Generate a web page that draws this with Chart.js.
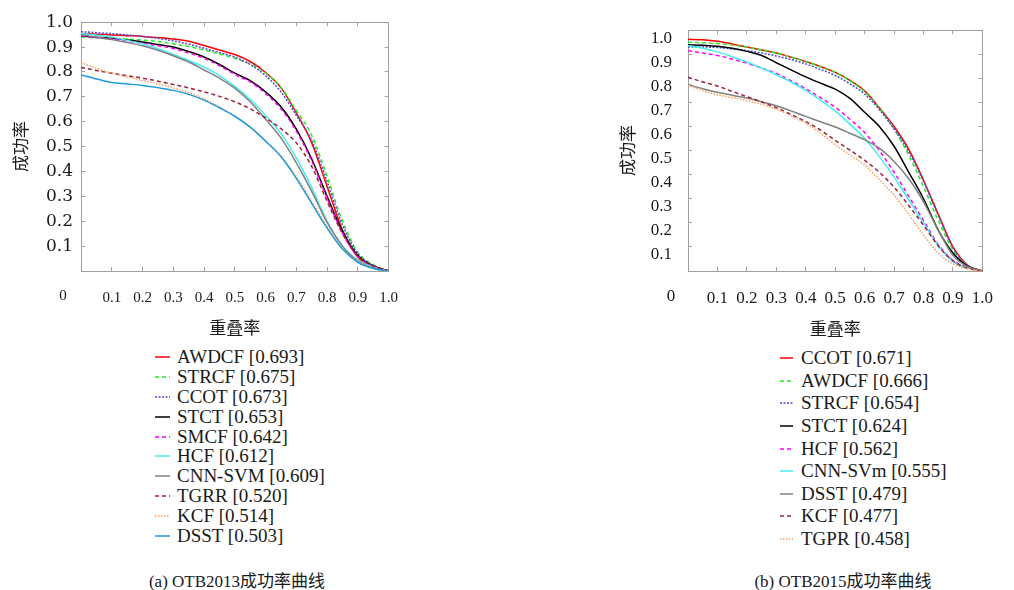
<!DOCTYPE html>
<html>
<head>
<meta charset="utf-8">
<script src="https://cdn.jsdelivr.net/npm/chart.js@4.4.1/dist/chart.umd.min.js"></script>
<style>
  body { margin:0; background:#fff; width:1014px; height:590px; overflow:hidden; position:relative;
         font-family:"Liberation Serif","Noto Sans CJK SC",serif; color:#1a1a1a; }
  .box { position:absolute; }
  .legend { position:absolute; font-size:19px; }
  .legend div { display:flex; align-items:center; white-space:nowrap; }
  .cap { position:absolute; font-size:17px; transform:translateX(-50%); white-space:nowrap; }
</style>
</head>
<body>
<div class="box" style="left:0;top:0;width:420px;height:345px"><canvas id="c13"></canvas></div>
<div class="box" style="left:580px;top:0;width:434px;height:345px"><canvas id="c15"></canvas></div>
<div class="legend" id="lg13" style="left:155px;top:347px"></div>
<div class="legend" id="lg15" style="left:780px;top:347px"></div>
<div class="cap" style="left:237px;top:567px">(a) OTB2013成功率曲线</div>
<div class="cap" style="left:843px;top:567px">(b) OTB2015成功率曲线</div>
<script>
// overlap thresholds (x axis)
const thresholds = [0, 0.05, 0.1, 0.15, 0.2, 0.25, 0.3, 0.35, 0.4, 0.45, 0.5,
                    0.55, 0.6, 0.65, 0.7, 0.75, 0.8, 0.85, 0.9, 0.95, 1];

// OTB2013
const names13 = ['AWDCF', 'STRCF', 'CCOT', 'STCT', 'SMCF', 'HCF', 'CNN-SVM', 'TGRR', 'KCF', 'DSST'];
const auc13 = [0.693, 0.675, 0.673, 0.653, 0.642, 0.612, 0.609, 0.520, 0.514, 0.503];
const awdcf13 = [0.955,0.952,0.949,0.946,0.943,0.938,0.932,0.923,0.906,0.888,0.870,0.842,0.798,0.737,0.635,0.515,0.34,0.165,0.055,0.02,0];
const strcf13 = [0.94,0.938,0.936,0.932,0.928,0.922,0.913,0.902,0.888,0.872,0.855,0.832,0.795,0.738,0.645,0.545,0.38,0.2,0.075,0.025,0];
const ccot13 = [0.962,0.958,0.954,0.949,0.943,0.935,0.925,0.912,0.895,0.878,0.86,0.83,0.785,0.72,0.625,0.525,0.36,0.185,0.07,0.022,0];
const stct13 = [0.945,0.94,0.935,0.928,0.92,0.91,0.9,0.882,0.86,0.83,0.795,0.765,0.72,0.66,0.57,0.45,0.30,0.16,0.062,0.02,0];
const smcf13 = [0.945,0.938,0.932,0.924,0.915,0.905,0.894,0.876,0.855,0.825,0.79,0.76,0.713,0.652,0.562,0.442,0.292,0.152,0.058,0.018,0];
const hcf13 = [0.955,0.948,0.94,0.927,0.912,0.893,0.87,0.846,0.82,0.785,0.742,0.69,0.625,0.552,0.455,0.335,0.2,0.1,0.045,0.015,0];
const cnn13 = [0.95,0.94,0.93,0.918,0.905,0.887,0.865,0.84,0.808,0.775,0.735,0.68,0.61,0.535,0.435,0.32,0.195,0.1,0.04,0.012,0];
const tgrr13 = [0.818,0.806,0.795,0.785,0.775,0.763,0.75,0.736,0.72,0.702,0.68,0.652,0.615,0.572,0.515,0.42,0.28,0.15,0.06,0.02,0];
const kcf13 = [0.838,0.815,0.795,0.78,0.766,0.752,0.736,0.716,0.692,0.66,0.622,0.578,0.522,0.46,0.38,0.28,0.18,0.09,0.04,0.01,0];
const dsst13 = [0.788,0.772,0.758,0.752,0.746,0.737,0.726,0.71,0.687,0.656,0.622,0.578,0.522,0.46,0.372,0.272,0.172,0.088,0.035,0.01,0];

// OTB2015
const names15 = ['CCOT', 'AWDCF', 'STRCF', 'STCT', 'HCF', 'CNN-SVm', 'DSST', 'KCF', 'TGPR'];
const auc15 = [0.671, 0.666, 0.654, 0.624, 0.562, 0.555, 0.479, 0.477, 0.458];
const ccot15 = [0.962,0.96,0.954,0.943,0.93,0.918,0.905,0.888,0.87,0.849,0.825,0.792,0.748,0.678,0.6,0.505,0.377,0.236,0.1,0.024,0];
const awdcf15 = [0.95,0.948,0.945,0.938,0.93,0.918,0.905,0.888,0.87,0.849,0.825,0.79,0.745,0.675,0.59,0.48,0.35,0.21,0.088,0.022,0];
const strcf15 = [0.93,0.93,0.928,0.922,0.915,0.905,0.893,0.878,0.86,0.837,0.812,0.777,0.735,0.67,0.59,0.495,0.372,0.232,0.097,0.022,0];
const stct15 = [0.94,0.937,0.933,0.925,0.912,0.895,0.865,0.835,0.806,0.78,0.755,0.717,0.659,0.6,0.518,0.41,0.3,0.17,0.075,0.02,0];
const hcf15 = [0.915,0.905,0.895,0.88,0.863,0.843,0.82,0.79,0.757,0.72,0.68,0.63,0.575,0.5,0.41,0.31,0.21,0.11,0.045,0.014,0];
const cnn15 = [0.935,0.925,0.91,0.89,0.868,0.843,0.815,0.785,0.75,0.71,0.665,0.61,0.55,0.475,0.39,0.295,0.2,0.105,0.04,0.012,0];
const dsst15 = [0.775,0.757,0.742,0.73,0.718,0.703,0.686,0.665,0.642,0.62,0.598,0.572,0.545,0.51,0.455,0.383,0.287,0.17,0.065,0.018,0];
const kcf15 = [0.805,0.785,0.768,0.746,0.724,0.702,0.678,0.65,0.62,0.585,0.543,0.502,0.46,0.41,0.348,0.272,0.19,0.105,0.042,0.012,0];
const tgpr15 = [0.772,0.748,0.732,0.72,0.708,0.692,0.672,0.645,0.614,0.572,0.524,0.482,0.44,0.38,0.315,0.235,0.15,0.075,0.03,0.008,0];

// line styles
const RED = {color:'#ff0000', dash:[]};
const GREEN = {color:'#22ee22', dash:[4,3]};
const BLUE = {color:'#4b4bdb', dash:[2,1.5]};
const BLACK = {color:'#000000', dash:[]};
const MAGENTA = {color:'#ff00ff', dash:[4,3]};
const CYAN = {color:'#44eeee', dash:[]};
const GRAY = {color:'#808080', dash:[]};
const MAROON = {color:'#9b2335', dash:[4,3]};
const ORANGE = {color:'#f4a060', dash:[1.5,1.5]};
const SKY = {color:'#1e9bdc', dash:[]};

const styles13 = [RED, GREEN, BLUE, BLACK, MAGENTA, CYAN, GRAY, MAROON, ORANGE, SKY];
const styles15 = [RED, GREEN, BLUE, BLACK, MAGENTA, CYAN, GRAY, MAROON, ORANGE];

const AXIS = '#a0a0a0';
const SERIF = "'Liberation Serif', serif";
const CJK = "'Noto Sans CJK SC', sans-serif";

// draws the lone "0" left of the origin, as in the original figure
const originLabel = {
  id: 'originLabel',
  afterDraw(chart, args, opts) {
    const x = chart.scales.x;
    const ctx = chart.ctx;
    ctx.save();
    ctx.font = opts.font;
    ctx.fillStyle = '#1a1a1a';
    ctx.textAlign = 'center';
    ctx.textBaseline = 'middle';
    ctx.fillText('0', x.getPixelForValue(0) + opts.dx, x.top + opts.dy);
    ctx.restore();
  }
};

function fmt(v) { return v === 0 ? '' : v.toFixed(1); }

function makeChart(id, series, names, styles, L) {
  const datasets = series.map((s, i) => ({
    label: names[i],
    data: s.map((v, j) => ({x: thresholds[j], y: v})),
    borderColor: styles[i].color,
    borderDash: styles[i].dash,
    borderWidth: 1.5,
    pointRadius: 0,
    fill: false,
    cubicInterpolationMode: 'monotone',
    order: -i
  }));
  const mirror = (pos) => ({
    type: 'linear', min: 0, max: 1, position: pos,
    ticks: {display: false, stepSize: 0.1},
    grid: {drawOnChartArea: false, tickLength: -4, color: AXIS},
    border: {color: AXIS},
    afterFit: s => { if (pos === 'top') s.height = 0; else s.width = 0; }
  });
  return new Chart(document.getElementById(id), {
    type: 'line',
    data: {datasets},
    options: {
      responsive: true,
      maintainAspectRatio: false,
      animation: false,
      layout: {padding: L.padding},
      plugins: {legend: {display: false}, tooltip: {enabled: false}, originLabel: L.origin},
      scales: {
        x: {
          type: 'linear', min: 0, max: 1, position: 'bottom',
          ticks: {stepSize: 0.1, padding: L.xPad, autoSkip: false, maxRotation: 0,
                  font: {family: SERIF, size: L.xFont}, color: '#1a1a1a', callback: fmt},
          grid: {drawOnChartArea: false, tickLength: -4, color: AXIS},
          border: {color: AXIS},
          title: {display: true, text: '重叠率', color: '#1a1a1a',
                  font: {family: CJK, size: 17}, padding: {top: 0, bottom: L.xTitlePad}},
          afterFit: s => { s.height = L.xH; }
        },
        x2: mirror('top'),
        y: {
          min: 0, max: 1, position: 'left',
          ticks: {stepSize: 0.1, padding: L.yPad, labelOffset: L.yOff,
                  font: {family: L.yFamily, size: L.yFont}, color: '#1a1a1a', callback: fmt},
          grid: {drawOnChartArea: false, tickLength: -4, color: AXIS},
          border: {color: AXIS},
          title: {display: true, text: '成功率', color: '#1a1a1a',
                  font: {family: CJK, size: 17}, padding: {top: L.yTitlePad, bottom: 0}},
          afterFit: s => { s.width = L.yW; }
        },
        y2: mirror('right')
      }
    },
    plugins: [originLabel]
  });
}

function buildLegend(id, names, aucs, styles, rowH, w, gap) {
  const el = document.getElementById(id);
  names.forEach((n, i) => {
    const st = styles[i];
    const row = document.createElement('div');
    row.style.height = rowH + 'px';
    const dash = st.dash.length ? st.dash.join(' ') : 'none';
    row.innerHTML = '<svg width="' + w + '" height="4" style="margin-right:' + gap + 'px">' +
      '<line x1="0" y1="2" x2="' + w + '" y2="2" stroke="' + st.color + '" stroke-width="1.5" stroke-dasharray="' + dash + '"/></svg>' +
      '<span>' + n + ' [' + aucs[i].toFixed(3) + ']</span>';
    el.appendChild(row);
  });
}

makeChart('c13', [awdcf13, strcf13, ccot13, stct13, smcf13, hcf13, cnn13, tgrr13, kcf13, dsst13], names13, styles13, {
  padding: {left: 0, top: 11, right: 27, bottom: 0},
  yW: 81, xH: 74, xPad: 22, xFont: 15, xTitlePad: 7,
  yPad: 12, yOff: 0, yFont: 17, yFamily: "'DejaVu Serif', serif", yTitlePad: 10,
  origin: {font: "15px 'Liberation Serif'", dx: -18, dy: 25.4}
});
makeChart('c15', [ccot15, awdcf15, strcf15, stct15, hcf15, cnn15, dsst15, kcf15, tgpr15], names15, styles15, {
  padding: {left: 0, top: 11, right: 15, bottom: 0},
  yW: 108, xH: 74, xPad: 21, xFont: 17, xTitlePad: 6,
  yPad: 20, yOff: 8, yFont: 17, yFamily: SERIF, yTitlePad: 37,
  origin: {font: "17px 'Liberation Serif'", dx: -17, dy: 26}
});

buildLegend('lg13', names13, auc13, styles13, 19.9, 15, 7);
buildLegend('lg15', names15, auc15, styles15, 22.6, 13, 8);
</script>
</body>
</html>
